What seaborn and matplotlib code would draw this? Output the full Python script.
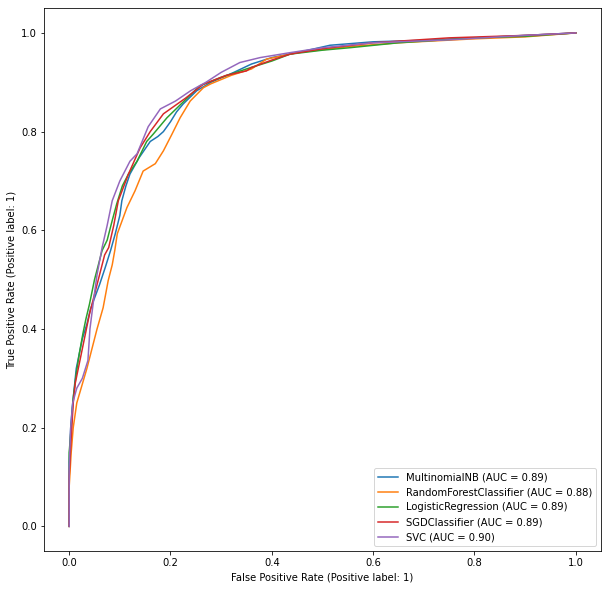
import matplotlib
matplotlib.use('Agg')
import matplotlib.pyplot as plt
import pandas as pd
import seaborn as sns

# ROC points
models = ['MultinomialNB', 'RandomForestClassifier', 'LogisticRegression', 'SGDClassifier', 'SVC']
aucs = [0.89, 0.88, 0.89, 0.89, 0.90]

nb_fpr = [0, 0, 0.003, 0.006, 0.01, 0.014, 0.02, 0.026, 0.035, 0.042, 0.048, 0.06, 0.071, 0.082, 0.091,
          0.1, 0.104, 0.112, 0.12, 0.138, 0.15, 0.16, 0.175, 0.186, 0.2, 0.212, 0.225, 0.252, 0.28, 0.325,
          0.36, 0.40, 0.45, 0.515, 0.6, 0.7, 0.8, 0.9, 1.0]
nb_tpr = [0, 0.13, 0.2, 0.24, 0.28, 0.32, 0.35, 0.38, 0.41, 0.44, 0.457, 0.49, 0.524, 0.56, 0.593,
          0.63, 0.66, 0.69, 0.714, 0.747, 0.765, 0.78, 0.79, 0.80, 0.82, 0.84, 0.856, 0.883, 0.90, 0.92,
          0.937, 0.95, 0.96, 0.975, 0.982, 0.985, 0.99, 0.995, 1.0]

rf_fpr = [0, 0, 0.004, 0.008, 0.015, 0.035, 0.055, 0.067, 0.077, 0.085, 0.09, 0.095, 0.114, 0.13, 0.146,
          0.17, 0.186, 0.203, 0.219, 0.239, 0.265, 0.28, 0.32, 0.36, 0.39, 0.45, 0.55, 0.65, 0.8, 0.9, 1.0]
rf_tpr = [0, 0.08, 0.15, 0.2, 0.25, 0.32, 0.4, 0.443, 0.498, 0.53, 0.559, 0.593, 0.646, 0.68, 0.72,
          0.735, 0.761, 0.795, 0.828, 0.862, 0.889, 0.897, 0.914, 0.927, 0.947, 0.96, 0.972, 0.98, 0.988, 0.992, 1.0]

lr_fpr = [0, 0, 0.004, 0.008, 0.014, 0.02, 0.027, 0.033, 0.04, 0.05, 0.065, 0.075, 0.085, 0.094, 0.105,
          0.117, 0.134, 0.153, 0.166, 0.193, 0.233, 0.258, 0.30, 0.35, 0.40, 0.436, 0.5, 0.554, 0.65, 0.8, 0.9, 1.0]
lr_tpr = [0, 0.15, 0.2, 0.26, 0.31, 0.35, 0.39, 0.42, 0.45, 0.5, 0.559, 0.58, 0.62, 0.654, 0.69,
          0.714, 0.74, 0.78, 0.795, 0.828, 0.868, 0.893, 0.91, 0.927, 0.943, 0.957, 0.965, 0.97, 0.98, 0.99, 0.993, 1.0]

sgd_fpr = [0, 0, 0.004, 0.008, 0.012, 0.02, 0.03, 0.04, 0.05, 0.06, 0.07, 0.078, 0.088, 0.097, 0.117,
           0.14, 0.16, 0.186, 0.23, 0.265, 0.31, 0.35, 0.36, 0.40, 0.436, 0.5, 0.6, 0.75, 0.9, 1.0]
sgd_tpr = [0, 0.1, 0.18, 0.25, 0.29, 0.33, 0.38, 0.43, 0.47, 0.51, 0.55, 0.565, 0.61, 0.66, 0.714,
           0.767, 0.80, 0.836, 0.868, 0.896, 0.914, 0.923, 0.93, 0.945, 0.957, 0.968, 0.98, 0.99, 0.995, 1.0]

svc_fpr = [0, 0, 0.003, 0.007, 0.015, 0.026, 0.037, 0.041, 0.048, 0.055, 0.065, 0.075, 0.085, 0.1, 0.12,
           0.134, 0.144, 0.156, 0.18, 0.21, 0.24, 0.27, 0.30, 0.337, 0.377, 0.436, 0.5, 0.6, 0.75, 0.9, 1.0]
svc_tpr = [0, 0.12, 0.2, 0.25, 0.28, 0.3, 0.336, 0.4, 0.457, 0.51, 0.565, 0.61, 0.66, 0.70, 0.74,
           0.755, 0.78, 0.81, 0.846, 0.862, 0.883, 0.90, 0.92, 0.94, 0.95, 0.96, 0.97, 0.98, 0.986, 0.995, 1.0]

curves = [(nb_fpr, nb_tpr), (rf_fpr, rf_tpr), (lr_fpr, lr_tpr), (sgd_fpr, sgd_tpr), (svc_fpr, svc_tpr)]

# long-form table for seaborn
rows = []
for name, auc, (fpr, tpr) in zip(models, aucs, curves):
    label = f'{name} (AUC = {auc:.2f})'
    for f, t in zip(fpr, tpr):
        rows.append({'fpr': f, 'tpr': t, 'model': label})
df = pd.DataFrame(rows)

fig = plt.figure(figsize=(609 / 72, 589 / 72), dpi=72)
ax = fig.add_axes([0.072, 0.0645, 0.915, 0.9215])
sns.lineplot(data=df, x='fpr', y='tpr', hue='model', palette='tab10', sort=False,
             estimator=None, linewidth=1.5, ax=ax)

ax.set_xlabel('False Positive Rate (Positive label: 1)')
ax.set_ylabel('True Positive Rate (Positive label: 1)')
ax.set_xlim(-0.05, 1.05)
ax.set_ylim(-0.05, 1.05)
ax.legend(loc='lower right', title=None)

fig.savefig('out.png', dpi=72)
